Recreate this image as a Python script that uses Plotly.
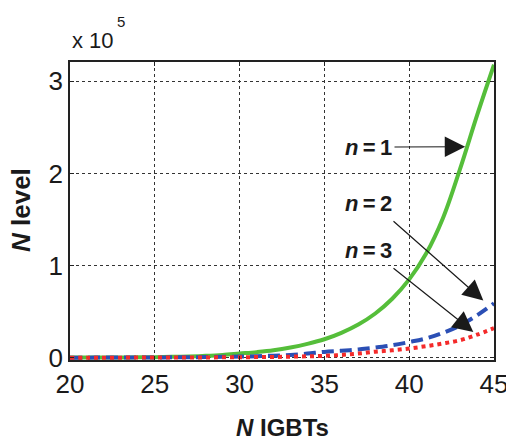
import plotly.graph_objects as go

n_igbts = list(range(20, 46))
# N level values (units of 1e5)
level_n1 = [0.001, 0.0015, 0.002, 0.003, 0.004, 0.006, 0.009, 0.013, 0.02, 0.03,
            0.045, 0.06, 0.08, 0.11, 0.15, 0.2, 0.27, 0.36, 0.48, 0.64,
            0.85, 1.13, 1.52, 2.05, 2.63, 3.18]
level_n2 = [0.0005, 0.0007, 0.001, 0.0014, 0.002, 0.0027, 0.0037, 0.005, 0.0065, 0.009,
            0.012, 0.016, 0.022, 0.03, 0.045, 0.063, 0.075, 0.09, 0.11, 0.135,
            0.17, 0.21, 0.27, 0.35, 0.46, 0.59]
level_n3 = [0.0003, 0.0004, 0.0005, 0.0007, 0.001, 0.0013, 0.0017, 0.0022, 0.003, 0.004,
            0.005, 0.0065, 0.008, 0.011, 0.015, 0.02, 0.03, 0.045, 0.065, 0.08,
            0.1, 0.125, 0.155, 0.19, 0.25, 0.32]
scale = 1e5
x_ticks = [20, 25, 30, 35, 40, 45]
y_ticks = [0, 1, 2, 3]

W, H = 506, 440
L, R, T, B = 70, 12, 62, 80
PW, PH = W - L - R, H - T - B
XR = [20, 45]
YR = [-2500, 321000]

fig = go.Figure()
fig.add_trace(go.Scatter(x=n_igbts, y=[v * scale for v in level_n1], mode="lines",
                         line=dict(color="#55BE3A", width=4, shape="spline"), name="n=1"))
fig.add_trace(go.Scatter(x=n_igbts, y=[v * scale for v in level_n2], mode="lines",
                         line=dict(color="#2B4FB5", width=4, dash="12px,6px", shape="spline"),
                         name="n=2"))
fig.add_trace(go.Scatter(x=n_igbts, y=[v * scale for v in level_n3], mode="lines",
                         line=dict(color="#F42A2A", width=4, dash="4px,4px", shape="spline"),
                         name="n=3"))

tickfont = dict(family="Liberation Sans, Arial", size=26, color="#1a1a1a")
common = dict(showline=True, linecolor="#222", linewidth=1.5, mirror="ticks",
              ticks="inside", ticklen=4, tickcolor="#222",
              showgrid=True, gridcolor="#333", griddash="dot", gridwidth=1,
              zeroline=False, tickfont=tickfont, ticklabeloverflow="allow",
              automargin=False)
fig.update_xaxes(range=XR, tickvals=x_ticks, ticktext=[str(v) for v in x_ticks], **common)
fig.update_yaxes(range=YR, tickvals=[v * scale for v in y_ticks],
                 ticktext=[str(v) for v in y_ticks], **common)

# pixel -> paper (paper = plot area in plotly)
def px(xp):
    return (xp - L) / PW

def py(yp):
    return (H - B - yp) / PH

# pixel -> data (for arrow tails)
def pdx(xp):
    return XR[0] + (xp - L) / PW * (XR[1] - XR[0])

def pdy(yp):
    return YR[0] + (H - B - yp) / PH * (YR[1] - YR[0])

afont = dict(family="Liberation Sans, Arial", size=22, color="#1a1a1a")
annos = [
    dict(text="x 10", x=px(70), y=py(40), xref="paper", yref="paper", xanchor="left",
         yanchor="middle", showarrow=False,
         font=dict(family="Liberation Sans, Arial", size=22, color="#1a1a1a")),
    dict(text="5", x=px(121), y=py(22), xref="paper", yref="paper", xanchor="center",
         yanchor="middle", showarrow=False,
         font=dict(family="Liberation Sans, Arial", size=15, color="#1a1a1a")),
    dict(text="<b><i>N</i> IGBTs</b>", x=px(282), y=py(428), xref="paper", yref="paper",
         xanchor="center", yanchor="middle", showarrow=False,
         font=dict(family="Liberation Sans, Arial", size=24, color="#1a1a1a")),
    dict(text="<b><i>N</i> level</b>", x=px(21), y=py(210), xref="paper", yref="paper",
         xanchor="center", yanchor="middle", showarrow=False, textangle=-90,
         font=dict(family="Liberation Sans, Arial", size=26, color="#1a1a1a")),
]
labels = ["<b><i>n</i>\u2009=\u20091</b>", "<b><i>n</i>\u2009=\u20092</b>",
          "<b><i>n</i>\u2009=\u20093</b>"]
label_pos = [(368, 147), (368, 203), (368, 250)]
tail_pos = [(393, 147), (392, 220), (392, 267)]
head_pos = [(43.3, 2.29), (44.37, 0.62), (43.78, 0.28)]
for lab, (tx, ty) in zip(labels, label_pos):
    annos.append(dict(text=lab, x=px(tx), y=py(ty), xref="paper", yref="paper",
                      xanchor="center", yanchor="middle", showarrow=False, font=afont))
for (ax_, ay_), (hx, hy) in zip(tail_pos, head_pos):
    annos.append(dict(text="", x=hx, y=hy * scale, xref="x", yref="y",
                      ax=pdx(ax_), ay=pdy(ay_), axref="x", ayref="y",
                      showarrow=True, arrowhead=2, arrowsize=3.4, arrowwidth=1.2,
                      arrowcolor="#1a1a1a"))

fig.update_layout(width=W, height=H, margin=dict(l=L, r=R, t=T, b=B, autoexpand=False),
                  plot_bgcolor="white", paper_bgcolor="white", showlegend=False,
                  annotations=annos)
fig.write_html("out.html", config={"displayModeBar": False},
               post_script="document.body.style.margin='0';document.body.style.overflow='hidden';")
